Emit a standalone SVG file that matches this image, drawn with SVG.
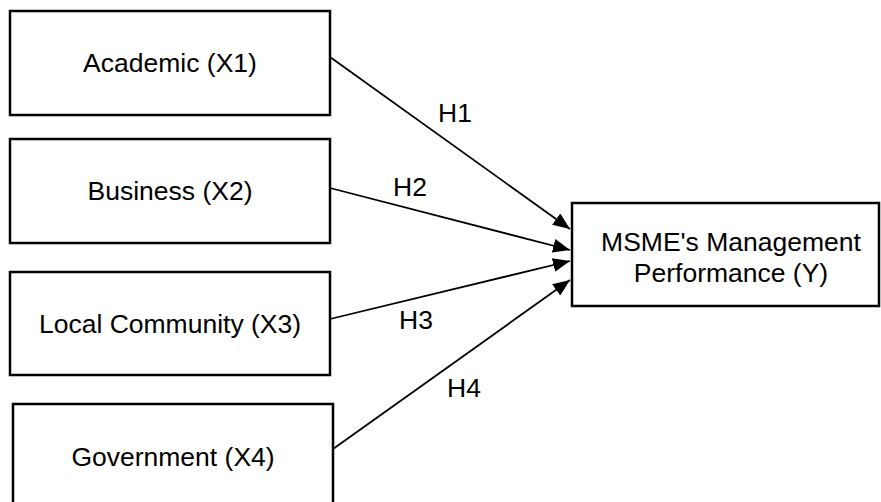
<svg xmlns="http://www.w3.org/2000/svg" width="881" height="502" viewBox="0 0 881 502">
<style>
.box{fill:#fff;stroke:#000;stroke-width:2.5}
.lbl{font-family:"Liberation Sans",Arial,sans-serif;font-size:26.5px;fill:#000;text-anchor:middle}
.hl{font-family:"Liberation Sans",Arial,sans-serif;font-size:26.5px;fill:#000}
.conn{stroke:#000;stroke-width:1.8;fill:none;marker-end:url(#ah)}
</style>
<defs>
<marker id="ah" markerUnits="userSpaceOnUse" markerWidth="18" markerHeight="14" refX="17" refY="7" orient="auto">
<path d="M0,0 L17,7 L0,14 Z" fill="#000"/>
</marker>
</defs>
<rect width="881" height="502" fill="#fff"/>
<g id="connectors">
<line class="conn" x1="330" y1="57" x2="570" y2="229"/>
<line class="conn" x1="330" y1="188" x2="570" y2="250"/>
<line class="conn" x1="330" y1="319" x2="570" y2="261"/>
<line class="conn" x1="333" y1="449" x2="570" y2="280"/>
<text class="hl" x="438" y="122">H1</text>
<text class="hl" x="393" y="196">H2</text>
<text class="hl" x="399" y="329">H3</text>
<text class="hl" x="447" y="397">H4</text>
</g>
<g id="academic">
<rect class="box" x="10" y="11" width="320" height="104"/>
<text class="lbl" x="170" y="72">Academic (X1)</text>
</g>
<g id="business">
<rect class="box" x="10" y="139" width="320" height="104"/>
<text class="lbl" x="170" y="200">Business (X2)</text>
</g>
<g id="community">
<rect class="box" x="10" y="272" width="320" height="103"/>
<text class="lbl" x="170" y="333">Local Community (X3)</text>
</g>
<g id="government">
<rect class="box" x="13" y="404" width="320" height="110"/>
<text class="lbl" x="173" y="466">Government (X4)</text>
</g>
<g id="msme">
<rect class="box" x="572" y="203" width="307" height="103"/>
<text class="lbl" x="731" y="251">MSME's Management</text>
<text class="lbl" x="731" y="282">Performance (Y)</text>
</g>
</svg>
